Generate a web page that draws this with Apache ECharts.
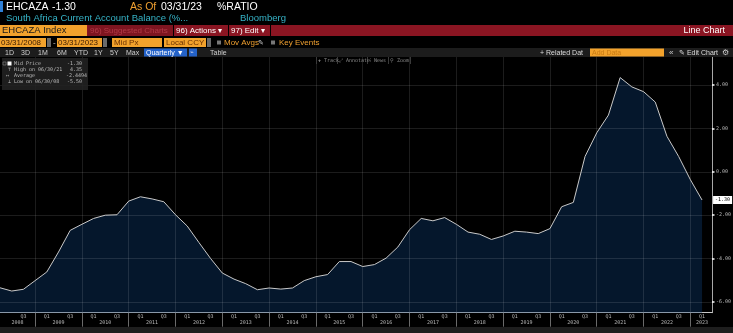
<!DOCTYPE html>
<html><head><meta charset="utf-8">
<script src="https://cdn.jsdelivr.net/npm/echarts@6/dist/echarts.min.js"></script>
<style>html,body{margin:0;padding:0;background:#000;}#c{width:733px;height:333px;}</style>
</head><body><div id="c"></div>
<script>
// ---- data ----
const dates = [
 '03/31/08','06/30/08','09/30/08','12/31/08',
 '03/31/09','06/30/09','09/30/09','12/31/09',
 '03/31/10','06/30/10','09/30/10','12/31/10',
 '03/31/11','06/30/11','09/30/11','12/31/11',
 '03/31/12','06/30/12','09/30/12','12/31/12',
 '03/31/13','06/30/13','09/30/13','12/31/13',
 '03/31/14','06/30/14','09/30/14','12/31/14',
 '03/31/15','06/30/15','09/30/15','12/31/15',
 '03/31/16','06/30/16','09/30/16','12/31/16',
 '03/31/17','06/30/17','09/30/17','12/31/17',
 '03/31/18','06/30/18','09/30/18','12/31/18',
 '03/31/19','06/30/19','09/30/19','12/31/19',
 '03/31/20','06/30/20','09/30/20','12/31/20',
 '03/31/21','06/30/21','09/30/21','12/31/21',
 '03/31/22','06/30/22','09/30/22','12/31/22',
 '03/31/23'
];
const values = [
 -5.35,-5.50,-5.42,-5.02,
 -4.62,-3.70,-2.70,-2.42,
 -2.15,-2.00,-1.98,-1.35,
 -1.15,-1.25,-1.38,-1.98,
 -2.50,-3.26,-4.00,-4.67,
 -4.95,-5.16,-5.44,-5.36,
 -5.41,-5.36,-5.02,-4.84,
 -4.74,-4.14,-4.14,-4.37,
 -4.28,-3.98,-3.47,-2.67,
 -2.15,-2.26,-2.11,-2.42,
 -2.78,-2.88,-3.12,-2.96,
 -2.74,-2.78,-2.85,-2.62,
 -1.61,-1.41,0.71,1.80,
 2.62,4.35,3.92,3.70,
 3.22,1.64,0.71,-0.36,
 -1.30
];
const yTicks = [-6,-4,-2,0,2,4];
const quarterLabels = {'03/31':'Q1','09/30':'Q3'};
const yearLabels = ['2008','2009','2010','2011','2012','2013','2014','2015','2016','2017','2018','2019','2020','2021','2022','2023'];
const statAverage = '-2.4494';

// ---- derived positions from data ----
const qPos = [], qText = {}, yearSepPos = [], yearPos = [], yearText = {};
dates.forEach((d,i)=>{
  const md = d.slice(0,5);
  if (quarterLabels[md] && i > 0) { qPos.push(i); qText[i] = quarterLabels[md]; }
  if (md === '12/31') yearSepPos.push(i);
});
yearLabels.forEach(y=>{
  const idx = []; dates.forEach((d,i)=>{ if ('20'+d.slice(6) === y) idx.push(i); });
  if (!idx.length) return;
  const first = idx[0], last = idx[idx.length-1];
  const p = idx.length === 1 ? last : (Math.max(first-1,0)+last)/2;
  yearPos.push(p); yearText[p] = y;
});
let hi = 0, lo = 0;
values.forEach((v,i)=>{ if (v>values[hi]) hi=i; if (v<values[lo]) lo=i; });

// ---- header graphics ----
const G = [];
const SANS = '"Liberation Sans", Arial, sans-serif';
const MONO = '"DejaVu Sans Mono", monospace';
function R(x,y,w,h,fill,z){G.push({type:'rect',shape:{x:x,y:y,width:w,height:h},style:{fill:fill},z:z||50,silent:true});}
function L(x1,y1,x2,y2,c,z){G.push({type:'line',shape:{x1:x1,y1:y1,x2:x2,y2:y2},style:{stroke:c,lineWidth:1},z:z||51,silent:true});}
function T(x,y,text,fill,size,o){o=o||{};G.push({type:'text',x:x,y:y,style:{text:text,fill:fill,font:size+'px '+(o.f||SANS),align:o.a||'left',verticalAlign:'middle'},z:o.z||52,silent:true});}

// row 1
R(0,1,3,11,'#2f7fd6');
T(6,7,'EHCAZA','#ffffff',10.5);
T(52,7,values[values.length-1].toFixed(2),'#ffffff',10.5);
T(130,7,'As Of','#f0a030',10.5);
T(161,7,'03/31/23','#ffffff',10.5);
T(217,7,'%RATIO','#ffffff',10.5);
// row 2
T(6,18.5,'South Africa Current Account Balance (%...','#36b4c8',9.5);
T(240,18.5,'Bloomberg','#36b4c8',9.5);
// row 3
R(0,25,733,11,'#8a1522');
R(0,25,87,11,'#f2a22c');
T(2,30.5,'EHCAZA Index','#1a1a1a',9.5);
R(88,25,85,11,'#7e1520');
T(90,30.5,'96) Suggested Charts','#b23a47',8);
L(173.5,25,173.5,36,'#000'); L(228.5,25,228.5,36,'#000'); L(270.5,25,270.5,36,'#000');
T(176,30.5,'96) Actions ▾','#ffffff',8);
T(231,30.5,'97) Edit ▾','#ffffff',8);
T(725,30.5,'Line Chart','#ffffff',9,{a:'right'});
// row 4
R(0,38,46,9,'#f2a22c'); T(1,42.8,'03/31/2008','#3a1a00',8);
R(47,38,4,9,'#6a6a6a');
T(53,42.8,'-','#cccccc',8);
R(57,38,45,9,'#f2a22c'); T(58,42.8,'03/31/2023','#3a1a00',8);
R(103,38,4,9,'#6a6a6a');
R(112,38,50,9,'#f2a22c'); T(114,42.8,'Mid Px','#6a3000',8);
R(164,38,42,9,'#f2a22c'); T(166,42.8,'Local CCY','#6a3000',8);
R(207,38,4,9,'#6a6a6a');
R(217,40.5,4,4,'#777'); T(224,42.8,'Mov Avgs','#f0a030',8); T(258,42.8,'✎','#cccccc',7);
R(271,40.5,4,4,'#777'); T(279,42.8,'Key Events','#f0a030',8);
// row 5
R(0,48,733,9,'#1c1c1c');
[['1D',5],['3D',21],['1M',38],['6M',57],['YTD',74],['1Y',94],['5Y',110],['Max',126]].forEach(a=>T(a[1],52.7,a[0],'#cfcfcf',7));
R(144,48.5,43,8,'#2462c8'); T(146,52.7,'Quarterly ▼','#ffffff',7);
R(189,48.5,8,8,'#2462c8'); T(190,52.7,'⌁','#dde',6);
T(210,52.7,'Table','#cfcfcf',7);
T(540,52.7,'+ Related Dat','#dddddd',7);
R(590,48.5,74,8,'#f2a22c'); T(592,52.7,'Add Data','#c77a12',7);
T(669,52.7,'«','#cccccc',8);
T(679,52.7,'✎ Edit Chart','#dddddd',7);
T(722,52.7,'⚙','#cccccc',8);
// chart toolbar
L(316.5,57,316.5,64,'#3a3a3a'); L(337.5,57,337.5,64,'#3a3a3a'); L(367.5,57,367.5,64,'#3a3a3a'); L(388.5,57,388.5,64,'#3a3a3a'); L(410.5,57,410.5,64,'#3a3a3a');
T(318,60.5,'✚ Track','#8a8a8a',5,{f:MONO});
T(339,60.5,'⤢ Annotate','#8a8a8a',5,{f:MONO});
T(370,60.5,'⁝ News','#8a8a8a',5,{f:MONO});
T(390,60.5,'⚲ Zoom','#8a8a8a',5,{f:MONO});
// legend box
R(2,58,86,32,'rgba(34,34,34,0.88)',100);
G.push({type:'rect',shape:{x:3,y:62,width:3,height:3},style:{fill:'none',stroke:'#888',lineWidth:0.6},z:101,silent:true});
R(7.5,61.5,4,4,'#ffffff',101);
T(8,70,'⊤','#bbbbbb',5,{f:MONO,z:101});
T(6,76,'↔','#bbbbbb',5,{f:MONO,z:101});
T(8,82,'⊥','#bbbbbb',5,{f:MONO,z:101});
T(14,64,'Mid Price','#bbbbbb',5,{f:MONO,z:101});
T(14,70,'High on '+dates[hi],'#bbbbbb',5,{f:MONO,z:101});
T(14,76,'Average','#bbbbbb',5,{f:MONO,z:101});
T(14,82,'Low on '+dates[lo],'#bbbbbb',5,{f:MONO,z:101});
const fmt = v => (v<0?'':' ')+v.toFixed(2);
T(67,64,fmt(values[values.length-1]),'#bbbbbb',5,{f:MONO,z:101});
T(67,70,fmt(values[hi]),'#bbbbbb',5,{f:MONO,z:101});
T(66,76,statAverage,'#bbbbbb',5,{f:MONO,z:101});
T(67,82,fmt(values[lo]),'#bbbbbb',5,{f:MONO,z:101});
// bottom strip
R(0,327,733,6,'#1e1e1e');

const gridLines = yTicks.map(v=>({yAxis:v})).concat(yearSepPos.map(i=>({xAxis:i})));

const chart = echarts.init(document.getElementById('c'), null, {renderer:'canvas'});
chart.setOption({
  backgroundColor:'#000',
  animation:false,
  grid:{left:0,right:21,top:57,bottom:20.3,containLabel:false,outerBoundsMode:'none'},
  xAxis:[{
    type:'value', min:0, max:60.85, position:'bottom',
    axisLine:{show:true,onZero:false,lineStyle:{color:'#c8c8c8',width:1}},
    axisTick:{show:true,customValues:yearSepPos,length:14,lineStyle:{color:'#6a6a6a'}},
    axisLabel:{customValues:qPos,formatter:v=>qText[v]||'',color:'#b8b8b8',fontSize:5,fontFamily:MONO,margin:1.5},
    splitLine:{show:false}
  },{
    type:'value', min:0, max:60.85, position:'bottom',
    axisLine:{show:false,onZero:false}, axisTick:{show:false}, splitLine:{show:false},
    axisLabel:{customValues:yearPos,formatter:v=>yearText[v]||'',color:'#b8b8b8',fontSize:5,fontFamily:MONO,margin:7.5}
  }],
  yAxis:{
    type:'value', position:'right', min:-6.5, max:5.3,
    axisLine:{show:true,onZero:false,lineStyle:{color:'#a8a8a8',width:1}},
    axisTick:{show:true,customValues:yTicks,length:2.5,lineStyle:{color:'#ffffff',width:1.5}},
    axisLabel:{customValues:yTicks,formatter:v=>v.toFixed(2),color:'#bbbbbb',fontSize:5,fontFamily:MONO,margin:4},
    splitLine:{show:false}
  },
  series:[{
    type:'line', xAxisIndex:0, data:values.map((v,i)=>[i,v]), symbol:'none',
    lineStyle:{color:'#c9c9c9',width:1},
    areaStyle:{origin:'start',color:'rgba(12,52,100,0.62)'},
    endLabel:{show:true,formatter:p=>p.value[1].toFixed(2),backgroundColor:'#ffffff',color:'#000',fontSize:5,fontFamily:MONO,padding:[1.5,2],distance:11},
    markLine:{silent:true,symbol:'none',label:{show:false},animation:false,
      lineStyle:{color:'rgba(255,255,255,0.11)',width:1,type:'solid'},data:gridLines}
  }],
  graphic:G
});
</script></body></html>
